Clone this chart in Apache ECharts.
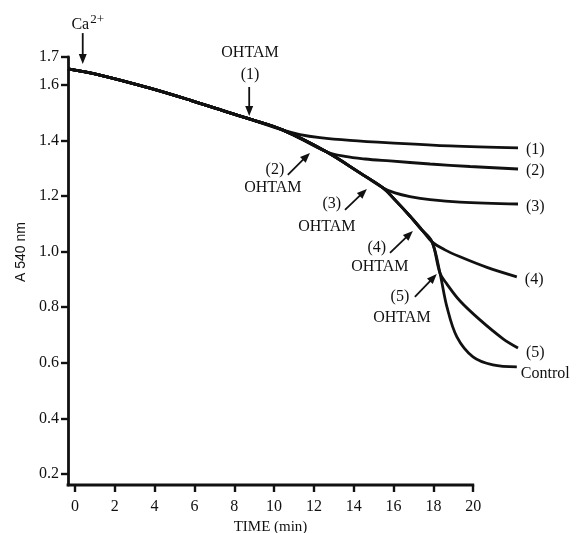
<!DOCTYPE html>
<html>
<head>
<meta charset="utf-8">
<script src="https://cdn.jsdelivr.net/npm/echarts@6/dist/echarts.min.js"></script>
<style>
  html, body { margin: 0; padding: 0; background: #fff; }
  #chart { width: 582px; height: 533px; }
</style>
</head>
<body>
<div id="chart"></div>
<script>
// Absorbance at 540 nm after Ca2+ addition (control trace), time in minutes
const controlTime = [-0.35, 1.25, 3.76, 5.77, 7.78, 8.68, 10.45, 12.65, 14.31, 15.47, 16.07, 16.82, 17.42, 17.93, 18.33, 18.68, 19.18, 19.99, 20.99, 22.19];
const controlAbs  = [1.657, 1.635, 1.588, 1.545, 1.499, 1.479, 1.437, 1.358, 1.283, 1.229, 1.186, 1.128, 1.078, 1.035, 0.923, 0.801, 0.693, 0.621, 0.592, 0.585];

// OHTAM additions (1)-(5): time of addition, and the trace recorded afterwards
const additionTime = [10.45, 12.65, 15.47, 17.93, 18.33];
const branchTime = [
  [11.30, 12.30, 13.81, 15.82, 18.83, 22.25],
  [13.56, 14.57, 15.82, 17.83, 19.84, 22.25],
  [16.07, 16.82, 17.83, 19.33, 22.25],
  [18.58, 19.34, 20.69, 22.19],
  [18.68, 19.34, 20.34, 21.50, 22.25]
];
const branchAbs = [
  [1.421, 1.410, 1.400, 1.391, 1.380, 1.373],
  [1.342, 1.333, 1.326, 1.315, 1.306, 1.297],
  [1.211, 1.198, 1.187, 1.178, 1.171],
  [1.006, 0.981, 0.943, 0.909],
  [0.883, 0.822, 0.754, 0.686, 0.653]
];
const branchNames = ['(1)', '(2)', '(3)', '(4)', '(5)'];

// Axis extent and ticks
const xStart = -0.35;
const xEnd = 20;
const yStart = 0.16;
const yEnd = 1.7;
const xTicks = [0, 2, 4, 6, 8, 10, 12, 14, 16, 18, 20];
const yTicks = [0.2, 0.4, 0.6, 0.8, 1.0, 1.2, 1.4, 1.6, 1.7];

// Arrows: [fromTime, fromAbs] -> [toTime, toAbs]
const arrowFromTime = [0.39, 8.75, 10.69, 13.56, 15.82, 17.07];
const arrowFromAbs  = [1.786, 1.592, 1.276, 1.150, 0.995, 0.837];
const arrowToTime   = [0.39, 8.75, 11.80, 14.66, 16.97, 18.17];
const arrowToAbs    = [1.675, 1.488, 1.355, 1.225, 1.074, 0.919];

// Annotation texts
const noteText = ['{c|Ca}{s|2+}', 'OHTAM', '(1)', '(2)', 'OHTAM', '(3)', 'OHTAM', '(4)', 'OHTAM', '(5)', 'OHTAM'];
const noteTime = [0.64, 8.79, 8.79, 10.04, 9.94, 12.90, 12.65, 15.16, 15.31, 16.32, 16.42];
const noteAbs  = [1.822, 1.716, 1.635, 1.294, 1.229, 1.171, 1.088, 1.013, 0.945, 0.837, 0.761];

const SERIF = '"Liberation Serif", "Times New Roman", serif';
const INK = '#111';
const LINE_W = 2.8;

const controlData = controlTime.map((t, i) => [t, controlAbs[i]]);

function traceWithAddition(k) {
  const pre = controlData.filter(p => p[0] <= additionTime[k] + 1e-9);
  const post = branchTime[k].map((t, i) => [t, branchAbs[k][i]]);
  return pre.concat(post);
}

const lineStyle = { color: INK, width: LINE_W };
const endLabelOffsets = [[0, 2], [0, 2], [0, 3], [0, 3], [0, 5]];

const series = [];
branchNames.forEach((name, k) => {
  series.push({
    type: 'line',
    name: name,
    data: traceWithAddition(k),
    smooth: 0.35,
    showSymbol: false,
    symbol: 'none',
    clip: false,
    lineStyle: lineStyle,
    animation: false,
    endLabel: {
      show: true,
      formatter: name,
      distance: 8,
      offset: endLabelOffsets[k],
      color: INK,
      fontFamily: SERIF,
      fontSize: 16
    }
  });
});
series.push({
  type: 'line',
  name: 'Control',
  data: controlData,
  smooth: 0.35,
  showSymbol: false,
  symbol: 'none',
  clip: false,
  lineStyle: lineStyle,
  animation: false,
  endLabel: {
    show: true,
    formatter: 'Control',
    distance: 4,
    offset: [0, 7],
    color: INK,
    fontFamily: SERIF,
    fontSize: 16
  }
});

// Time axis baseline, ending at the last labelled minute
series.push({
  type: 'custom',
  clip: false,
  animation: false,
  silent: true,
  data: [[xStart, yStart, xEnd, yStart]],
  encode: { x: [0, 2], y: [1, 3] },
  renderItem: function (params, api) {
    const a = api.coord([api.value(0), api.value(1)]);
    const b = api.coord([api.value(2), api.value(3)]);
    return {
      type: 'line',
      shape: { x1: a[0] - LINE_W / 2, y1: a[1], x2: b[0] + 1, y2: b[1] },
      style: { stroke: INK, lineWidth: LINE_W }
    };
  }
});

// Arrows drawn in data coordinates
series.push({
  type: 'custom',
  clip: false,
  animation: false,
  silent: true,
  data: arrowFromTime.map((t, i) => [t, arrowFromAbs[i], arrowToTime[i], arrowToAbs[i]]),
  encode: { x: [0, 2], y: [1, 3] },
  renderItem: function (params, api) {
    const a = api.coord([api.value(0), api.value(1)]);
    const b = api.coord([api.value(2), api.value(3)]);
    const dx = b[0] - a[0], dy = b[1] - a[1];
    const len = Math.sqrt(dx * dx + dy * dy);
    const ux = dx / len, uy = dy / len;
    const headLen = 10, headHalf = 4;
    const base = [b[0] - ux * headLen, b[1] - uy * headLen];
    return {
      type: 'group',
      children: [
        {
          type: 'line',
          shape: { x1: a[0], y1: a[1], x2: base[0] + ux, y2: base[1] + uy },
          style: { stroke: INK, lineWidth: 1.8 }
        },
        {
          type: 'polygon',
          shape: {
            points: [
              b,
              [base[0] - uy * headHalf, base[1] + ux * headHalf],
              [base[0] + uy * headHalf, base[1] - ux * headHalf]
            ]
          },
          style: { fill: INK }
        }
      ]
    };
  }
});

// Text annotations
series.push({
  type: 'custom',
  clip: false,
  animation: false,
  silent: true,
  data: noteTime.map((t, i) => [t, noteAbs[i]]),
  renderItem: function (params, api) {
    const p = api.coord([api.value(0), api.value(1)]);
    return {
      type: 'text',
      x: p[0],
      y: p[1],
      style: {
        text: noteText[params.dataIndex],
        align: 'center',
        verticalAlign: 'middle',
        fill: INK,
        font: '16px ' + SERIF,
        rich: {
          c: { fontFamily: SERIF, fontSize: 16, verticalAlign: 'bottom', fill: INK },
          s: { fontFamily: SERIF, fontSize: 13, verticalAlign: 'top', padding: [0, 0, 7, 1], fill: INK }
        }
      }
    };
  }
});

const chart = echarts.init(document.getElementById('chart'), null, { renderer: 'canvas' });
chart.setOption({
  animation: false,
  backgroundColor: '#fff',
  grid: { left: 68, right: 61, top: 57, bottom: 48, containLabel: false, outerBoundsMode: 'none' },
  xAxis: {
    type: 'value',
    min: xStart,
    max: 22.4,
    name: 'TIME (min)',
    nameLocation: 'middle',
    nameGap: 34,
    nameTextStyle: { fontFamily: SERIF, fontSize: 15, color: INK, padding: [0, 48, 0, 0] },
    axisLine: { show: false, onZero: false },
    axisTick: { show: true, customValues: xTicks, length: 7, lineStyle: { color: INK, width: 2.4 } },
    axisLabel: {
      customValues: xTicks,
      margin: 14,
      fontFamily: SERIF,
      fontSize: 16,
      color: INK
    },
    splitLine: { show: false }
  },
  yAxis: {
    type: 'value',
    min: yStart,
    max: yEnd,
    name: 'A 540 nm',
    nameLocation: 'middle',
    nameRotate: 90,
    nameGap: 39,
    nameTextStyle: {
      fontFamily: '"Liberation Sans Narrow", "Liberation Sans", sans-serif',
      fontSize: 14,
      color: INK,
      padding: [0, 0, 0, 38]
    },
    axisLine: { show: true, onZero: false, lineStyle: { color: INK, width: LINE_W } },
    axisTick: { show: true, customValues: yTicks, length: 7, lineStyle: { color: INK, width: 2.4 } },
    axisLabel: {
      customValues: yTicks,
      margin: 9,
      fontFamily: SERIF,
      fontSize: 16,
      color: INK,
      formatter: v => v.toFixed(1)
    },
    splitLine: { show: false }
  },
  series: series
});
</script>
</body>
</html>
